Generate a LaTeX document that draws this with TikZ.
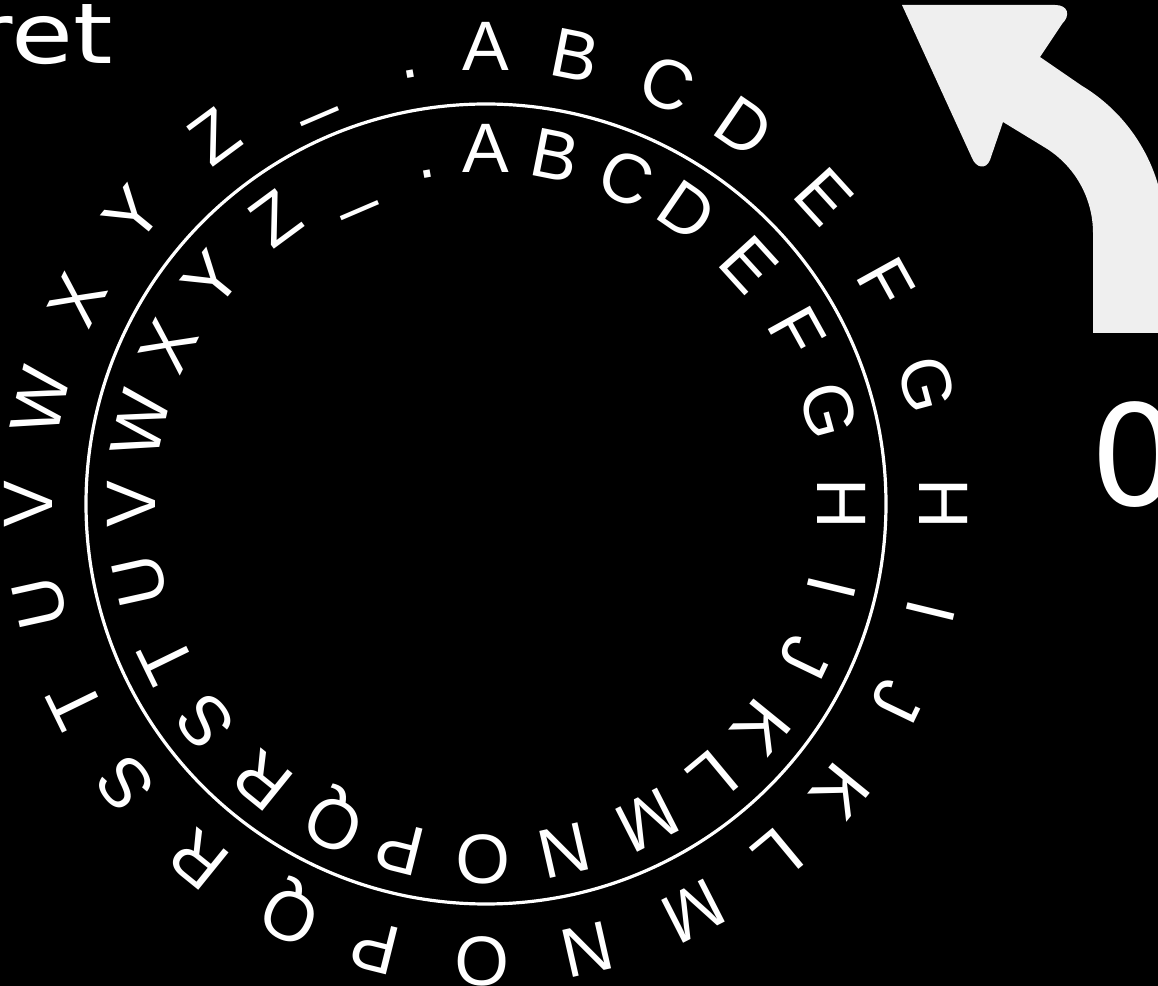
\documentclass[tikz,border=0pt]{standalone}
\usepackage{fontspec}
\setmainfont{Liberation Sans}
\newfontfamily\dejavu{DejaVu Sans}
\definecolor{arrowgray}{HTML}{EFEFEF}
\begin{document}
\begin{tikzpicture}[x=0.5pt,y=0.5pt,
  ringletter/.style={text=white, font=\fontsize{35}{35}\selectfont, inner sep=0pt, anchor=base},
  ringline/.style={draw=white, line width=1.6pt},
  bigarrow/.style={fill=arrowgray},
  bigtext/.style={text=white, inner sep=0pt}]
\useasboundingbox (0,0) rectangle (1158,986);
\fill[black] (0,0) rectangle (1158,986);
\clip (0,0) rectangle (1158,986);
\coordinate (c) at (486,482);
\draw[ringline] (c) circle[radius=400];
\foreach \ch/\a/\n in {A/90/a, B/78.7/b, C/66.7/c, D/55.6/d, E/42.3/e, F/29/f, G/15.2/g,
  H/0/h, I/-13.6/i, J/-25.7/j, K/-39.1/k, L/-50.3/l, M/-63/m, N/-77.2/n, O/-90.5/o,
  P/-104/p, Q/-115.5/q, R/-129/r, S/-142.2/s, T/-154/t, U/-167.5/u, V/180/v, W/167/w,
  X/153.5/x, Y/140.7/y, Z/126.4/z, \_/113.2/us, ./100/dot}{
  \node[ringletter, rotate=\a-90] (out\n) at ([shift={(\a:433)}]c) {\ch};
  \node[ringletter, rotate=\a-90] (in\n) at ([shift={(\a:331)}]c) {\ch};
}
\begin{scope}[shift={(0,986)}, yscale=-1]
\fill[bigarrow] (902,5) -- (1055,5) .. controls (1068,5) and (1071,15) .. (1062,24)
  -- (1040,57) -- (1081.6,85.6) arc[start angle=-59, end angle=0, radius=172]
  -- (1165,333) -- (1093,333) -- (1093,233) arc[start angle=0, end angle=-59, radius=100]
  -- (1003,122) -- (990,160) .. controls (986,170) and (976,168) .. (972,158) -- cycle;
\end{scope}
\node[bigtext, font=\dejavu\fontsize{70}{70}\selectfont] (zero) at (1135,531) {0};
\node[bigtext, font=\dejavu\fontsize{42}{42}\selectfont, anchor=base east, xscale=1.2] (ret) at (113,922) {ret};
\end{tikzpicture}
\end{document}
